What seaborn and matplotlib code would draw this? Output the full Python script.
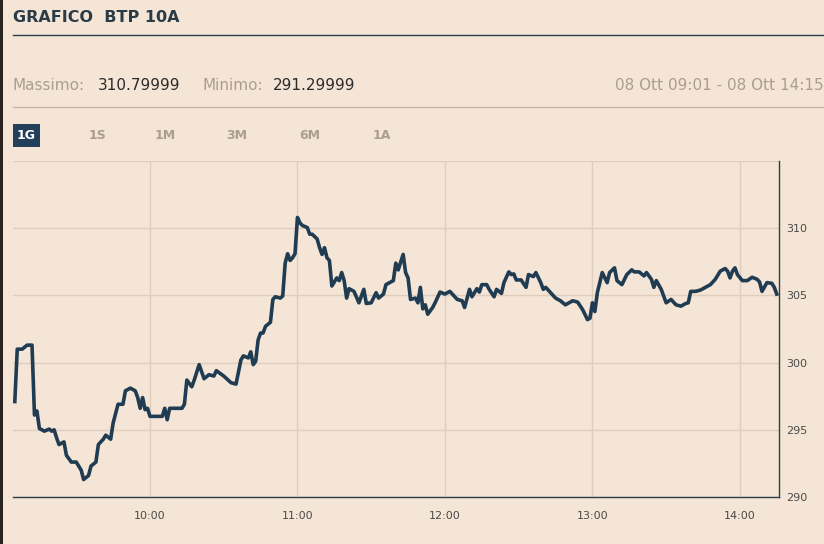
#import libraries
import pandas as pd
import matplotlib
matplotlib.use("Agg")
import matplotlib.pyplot as plt
import matplotlib.dates as mdates
from matplotlib.patches import Rectangle
import seaborn as sns

#data (08 Ott, BTP 10A)
times = ["09:05", "09:06", "09:08", "09:10", "09:12", "09:13", "09:14", "09:15", "09:17", "09:19",
         "09:20", "09:21", "09:22", "09:23", "09:25", "09:26", "09:28", "09:30", "09:32", "09:33",
         "09:35", "09:36", "09:38", "09:39", "09:41", "09:42", "09:44", "09:45", "09:47", "09:49",
         "09:50", "09:52", "09:54", "09:55", "09:56", "09:57", "09:58", "09:59", "10:00", "10:03",
         "10:05", "10:06", "10:07", "10:08", "10:11", "10:13", "10:14", "10:15", "10:17", "10:18",
         "10:20", "10:22", "10:24", "10:26", "10:27", "10:30", "10:33", "10:35", "10:37", "10:38",
         "10:40", "10:41", "10:42", "10:43", "10:44", "10:45", "10:46", "10:47", "10:49", "10:50",
         "10:51", "10:53", "10:54", "10:55", "10:56", "10:57", "10:58", "10:59", "11:00", "11:01",
         "11:02", "11:04", "11:05", "11:06", "11:08", "11:09", "11:10", "11:11", "11:12", "11:13",
         "11:14", "11:16", "11:17", "11:18", "11:19", "11:20", "11:21", "11:23", "11:25", "11:27",
         "11:28", "11:30", "11:32", "11:33", "11:35", "11:36", "11:38", "11:39", "11:40", "11:41",
         "11:43", "11:44", "11:45", "11:46", "11:48", "11:49", "11:50", "11:51", "11:52", "11:53",
         "11:55", "11:56", "11:58", "12:00", "12:02", "12:03", "12:05", "12:07", "12:08", "12:10",
         "12:11", "12:13", "12:14", "12:15", "12:17", "12:18", "12:20", "12:21", "12:23", "12:24",
         "12:26", "12:27", "12:28", "12:29", "12:31", "12:33", "12:34", "12:36", "12:37", "12:39",
         "12:40", "12:41", "12:43", "12:45", "12:47", "12:49", "12:52", "12:54", "12:56", "12:58",
         "12:59", "13:00", "13:01", "13:02", "13:04", "13:06", "13:07", "13:09", "13:10", "13:12",
         "13:14", "13:16", "13:17", "13:19", "13:21", "13:22", "13:24", "13:25", "13:26", "13:28",
         "13:30", "13:32", "13:34", "13:36", "13:38", "13:39", "13:40", "13:42", "13:44", "13:46",
         "13:48", "13:50", "13:52", "13:54", "13:55", "13:56", "13:57", "13:58", "13:59", "14:01",
         "14:03", "14:05", "14:07", "14:08", "14:09", "14:11", "14:13", "14:14", "14:15"]
prices = [297.1, 301.0, 301.0, 301.3, 301.3, 296.1, 296.4, 295.1, 294.9, 295.05,
          294.9, 295.0, 294.4, 293.9, 294.1, 293.1, 292.6, 292.6, 292.0, 291.3,
          291.6, 292.3, 292.6, 293.9, 294.3, 294.6, 294.3, 295.5, 296.9, 296.9,
          297.9, 298.1, 297.9, 297.4, 296.6, 297.4, 296.5, 296.6, 296.0, 296.0,
          296.0, 296.6, 295.75, 296.6, 296.6, 296.6, 296.9, 298.7, 298.2, 298.7,
          299.85, 298.8, 299.1, 299.0, 299.4, 299.0, 298.5, 298.4, 300.2, 300.5,
          300.35, 300.8, 299.85, 300.1, 301.7, 302.2, 302.2, 302.7, 303.0, 304.7,
          304.9, 304.8, 304.95, 307.4, 308.1, 307.6, 307.8, 308.1, 310.8, 310.4,
          310.2, 310.05, 309.55, 309.55, 309.2, 308.55, 308.05, 308.55, 307.8, 307.6,
          305.7, 306.3, 306.1, 306.7, 306.1, 304.8, 305.5, 305.3, 304.45, 305.45,
          304.4, 304.45, 305.2, 304.8, 305.1, 305.8, 306.0, 306.1, 307.4, 306.9,
          308.05, 306.7, 306.3, 304.7, 304.8, 304.45, 305.6, 304.0, 304.3, 303.6,
          304.1, 304.45, 305.25, 305.1, 305.3, 305.1, 304.7, 304.6, 304.1, 305.45,
          304.9, 305.5, 305.25, 305.8, 305.8, 305.45, 304.9, 305.45, 305.15, 305.95,
          306.75, 306.55, 306.6, 306.15, 306.15, 305.6, 306.55, 306.4, 306.7, 305.95,
          305.45, 305.6, 305.2, 304.8, 304.6, 304.3, 304.6, 304.5, 303.95, 303.2,
          303.3, 304.45, 303.8, 305.2, 306.7, 305.95, 306.7, 307.05, 306.1, 305.8,
          306.55, 306.9, 306.75, 306.75, 306.45, 306.7, 306.2, 305.6, 306.1, 305.45,
          304.45, 304.7, 304.3, 304.2, 304.4, 304.45, 305.3, 305.3, 305.4, 305.6,
          305.8, 306.2, 306.8, 307.0, 306.8, 306.3, 306.8, 307.05, 306.55, 306.1,
          306.1, 306.35, 306.2, 306.0, 305.3, 305.95, 305.9, 305.6, 305.1]
y_ticks = [290, 295, 300, 305, 310, 315]
hour_ticks = ["10:00", "11:00", "12:00", "13:00", "14:00"]
tabs = ["1G", "1S", "1M", "3M", "6M", "1A"]
massimo = "310.79999"
minimo = "291.29999"
periodo = "08 Ott 09:01 - 08 Ott 14:15"

df = pd.DataFrame({"time": pd.to_datetime(["2024-10-08 " + t for t in times]), "price": prices})

#colours
bg = "#f5e5d6"
navy = "#1f3c52"
grey_txt = "#ab9d90"
grid_c = "#dfcdbd"

plt.rcParams["font.family"] = ["DejaVu Sans"]

fig = plt.figure(figsize=(8.24, 5.44), dpi=100, facecolor=bg)
ax = fig.add_axes([13/824, 1-497/544, (779-13)/824, (497-161)/544])
ax.set_facecolor(bg)

sns.lineplot(data=df, x="time", y="price", ax=ax, color=navy, linewidth=2.6)

#axes range and ticks
ax.set_xlim(pd.Timestamp("2024-10-08 09:04:16"), pd.Timestamp("2024-10-08 14:15:55"))
ax.set_ylim(290, 315)
ax.set_yticks(y_ticks)
ax.set_yticklabels([str(v) if v < 315 else "" for v in y_ticks])
ax.set_xticks(pd.to_datetime(["2024-10-08 " + h for h in hour_ticks]))
ax.xaxis.set_major_formatter(mdates.DateFormatter("%H:%M"))
ax.yaxis.tick_right()
ax.tick_params(axis="both", length=0, labelsize=8, labelcolor="#4a4a4a")
ax.tick_params(axis="x", pad=10)
ax.tick_params(axis="y", pad=5)
ax.set_xlabel("")
ax.set_ylabel("")
ax.grid(True, color=grid_c, linewidth=1.0)
ax.set_axisbelow(True)
for s in ["left", "top"]:
    ax.spines[s].set_visible(False)
for s in ["right", "bottom"]:
    ax.spines[s].set_color("#2c3e4c")
    ax.spines[s].set_linewidth(1.0)

#header
fig.text(13/824, 1-17/544, "GRAFICO  BTP 10A", fontsize=11.5, fontweight="bold", color="#2a3b48", va="center")
fig.add_artist(plt.Line2D([13/824, 1], [1-35/544, 1-35/544], color="#2c3e4c", linewidth=1.0))

fig.text(13/824, 1-85/544, "Massimo:", fontsize=11, color=grey_txt, va="center")
fig.text(98/824, 1-85/544, massimo, fontsize=11, color="#2b2b2b", va="center")
fig.text(202/824, 1-85/544, "Minimo:", fontsize=11, color=grey_txt, va="center")
fig.text(273/824, 1-85/544, minimo, fontsize=11, color="#2b2b2b", va="center")
fig.text(1.0, 1-85/544, periodo, fontsize=11, color=grey_txt, va="center", ha="right")
fig.add_artist(plt.Line2D([13/824, 1], [1-107/544, 1-107/544], color="#c8b4a2", linewidth=1.0))

#period tabs
tab_x = [26, 97, 165, 237, 310, 382]
fig.patches.append(Rectangle((13/824, 1-147/544), 27/824, 23/544, transform=fig.transFigure,
                             facecolor="#23405a", edgecolor="none"))
for lab, xp in zip(tabs, tab_x):
    fig.text(xp/824, 1-135.5/544, lab, fontsize=9, fontweight="bold", ha="center", va="center",
             color="white" if lab == "1G" else grey_txt)

#dark screen border on the left
fig.patches.append(Rectangle((0, 0), 3/824, 1, transform=fig.transFigure, facecolor="#2a2320", edgecolor="none"))

plt.savefig("out.png", dpi=100, facecolor=bg)
